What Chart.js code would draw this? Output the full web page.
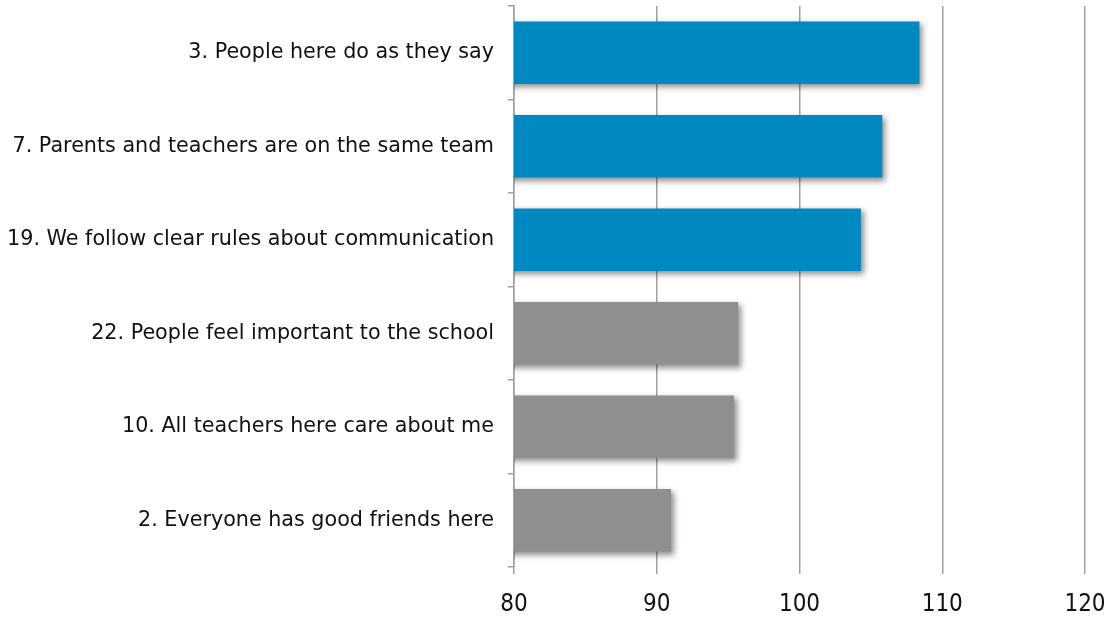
<!DOCTYPE html>
<html>
<head>
<meta charset="utf-8">
<script src="https://cdn.jsdelivr.net/npm/chart.js@4"></script>
<style>
  html, body { margin: 0; padding: 0; background: #fff; }
  #wrap { width: 1115px; height: 620px; }
</style>
</head>
<body>
<div id="wrap"><canvas id="chart-bar"></canvas></div>
<script>
// survey items, highest score first
const items = [
  '3. People here do as they say',
  '7. Parents and teachers are on the same team',
  '19. We follow clear rules about communication',
  '22. People feel important to the school',
  '10. All teachers here care about me',
  '2. Everyone has good friends here'
];
const scores = [108.4, 105.8, 104.3, 95.7, 95.4, 91.0];
const xTicks = [80, 90, 100, 110, 120];

const BLUE = '#0088c2';
const GREY = '#8f8f8f';
const barColors = [BLUE, BLUE, BLUE, GREY, GREY, GREY];

// soft drop shadow behind the bars
const barShadow = {
  id: 'barShadow',
  beforeDatasetsDraw(chart) {
    const ctx = chart.ctx;
    ctx.save();
    ctx.shadowColor = 'rgba(0,0,0,0.45)';
    ctx.shadowBlur = 6;
    ctx.shadowOffsetX = 3;
    ctx.shadowOffsetY = 3;
  },
  afterDatasetsDraw(chart) {
    chart.ctx.restore();
  }
};

function renderChart() {
  const el = document.getElementById('chart-bar');
  new Chart(el, {
    type: 'bar',
    data: {
      labels: items,
      datasets: [{
        data: scores,
        backgroundColor: barColors,
        borderWidth: 0,
        categoryPercentage: 1,
        barPercentage: 0.67
      }]
    },
    options: {
      indexAxis: 'y',
      responsive: true,
      maintainAspectRatio: false,
      animation: false,
      layout: { padding: { top: 6, right: 30, left: 0, bottom: 0 } },
      plugins: { legend: { display: false }, tooltip: { enabled: false } },
      scales: {
        x: {
          min: xTicks[0],
          max: xTicks[xTicks.length - 1],
          afterBuildTicks(scale) {
            scale.ticks = xTicks.map(v => ({ value: v }));
          },
          afterFit(scale) {
            scale.height = 53;
            // right margin comes from layout padding only
            scale.paddingLeft = 0;
            scale.paddingRight = 0;
          },
          grid: { color: '#a0a0a0', lineWidth: 1.5, tickLength: 7 },
          border: { display: false },
          ticks: {
            color: '#111',
            padding: 16,
            font: { family: "'DejaVu Sans Condensed', 'DejaVu Sans', sans-serif", size: 24 }
          }
        },
        y: {
          afterFit(scale) {
            scale.width = 514;
            // labels sit in the middle of each band, no overhang needed
            scale.paddingTop = 0;
            scale.paddingBottom = 0;
          },
          grid: { drawOnChartArea: false, color: '#a0a0a0', lineWidth: 1.5, tickLength: 6 },
          border: { color: '#a0a0a0', width: 1.5 },
          ticks: {
            color: '#111',
            padding: 14,
            font: { family: "'DejaVu Sans', sans-serif", size: 20.7 }
          }
        }
      }
    },
    plugins: [barShadow]
  });
}

renderChart();
</script>
</body>
</html>
